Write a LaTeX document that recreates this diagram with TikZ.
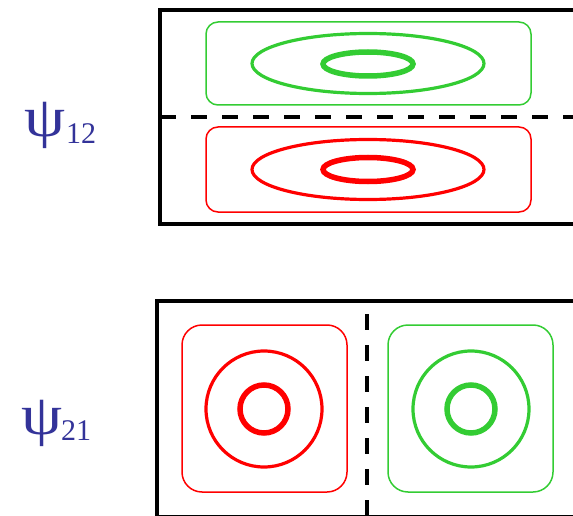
\documentclass[tikz,border=0pt]{standalone}
\usepackage{fontspec}
\setmainfont{Liberation Serif}
\definecolor{lgreen}{RGB}{51,204,51}
\definecolor{lblue}{RGB}{51,51,153}
\newcommand{\bigpsi}{\scalebox{1.15}[1]{\fontsize{57}{57}\selectfont ψ}}
\newcommand{\subnum}[1]{\raisebox{-6pt}{\fontsize{30}{30}\selectfont #1}}
\begin{document}
\begin{tikzpicture}[x=1pt,y=-1pt,
  frame/.style={draw=black,line width=4pt},
  divider/.style={draw=black,line width=4pt,dash pattern=on 16pt off 15pt},
  region/.style={line width=1.5pt,rounded corners=#1},
  outerc/.style={line width=3.2pt},
  innerc/.style={line width=5.5pt},
  lab/.style={text=lblue,inner sep=0pt,anchor=base west}]
\useasboundingbox (0,0) rectangle (573,516);
\clip (0,0) rectangle (573,516);
% top panel
\draw[frame] (160,10) rectangle (600,224);
\draw[divider] (160,117) -- (600,117);
\draw[region=12pt,draw=lgreen] (206,22) rectangle (531,105);
\draw[outerc,draw=lgreen] (368,63.5) ellipse (116 and 30);
\draw[innerc,draw=lgreen] (368,64) ellipse (45 and 12);
\draw[region=12pt,draw=red] (206,127) rectangle (531,212);
\draw[outerc,draw=red] (368,169.5) ellipse (116 and 30);
\draw[innerc,draw=red] (368,169.5) ellipse (45 and 12);
% bottom panel
\draw[frame] (157,301) rectangle (600,517);
\draw[divider] (367,314) -- (367,517);
\draw[region=20pt,draw=red] (182,325) rectangle (347,492);
\draw[outerc,draw=red] (264,409) circle (58);
\draw[innerc,draw=red] (264,409) circle (24);
\draw[region=20pt,draw=lgreen] (388,325) rectangle (553,492);
\draw[outerc,draw=lgreen] (471,409) circle (58);
\draw[innerc,draw=lgreen] (471,409) circle (24);
% labels
\node[lab] (psi12) at (24,137) {\bigpsi\hspace{1pt}\subnum{12}};
\node[lab] (psi21) at (21,434) {\bigpsi\hspace{-1pt}\subnum{21}};
\end{tikzpicture}
\end{document}
